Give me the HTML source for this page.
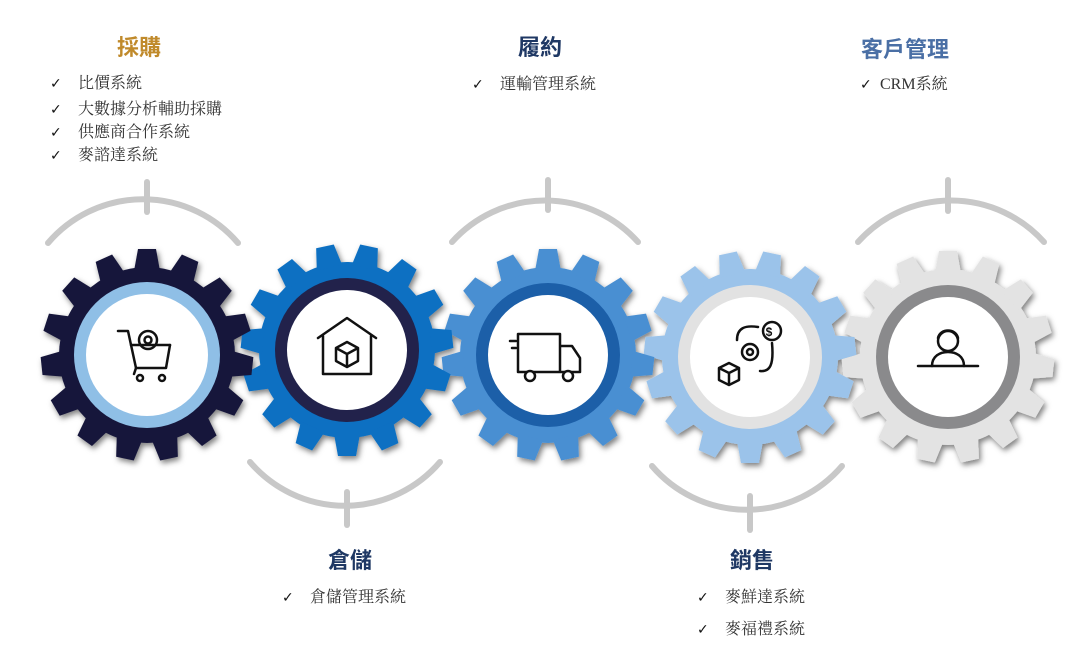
<!DOCTYPE html>
<html><head><meta charset="utf-8"><style>
body{margin:0;width:1080px;height:655px;background:#fff;position:relative;overflow:hidden;font-family:"Liberation Serif","Noto Serif CJK SC",serif;}
.t{position:absolute;font-family:"Liberation Sans","Noto Sans CJK TC",sans-serif;font-weight:bold;font-size:22px;transform:translateX(-50%);white-space:nowrap;line-height:1}
.i{position:absolute;font-size:16px;color:#333;white-space:nowrap;line-height:1}
.i b{font-family:"DejaVu Sans",sans-serif;font-size:14px;font-weight:normal;color:#111;display:inline-block;width:28px}
svg{position:absolute;left:0;top:0}
</style></head><body>
<svg width="1080" height="655" viewBox="0 0 1080 655">
<defs>
<g id="gear">
<circle r="88"/>
<g id="tooth"><polygon points="-13,-84 -9,-106 9,-106 13,-84"/></g>
<use href="#tooth" transform="rotate(24)"/><use href="#tooth" transform="rotate(48)"/><use href="#tooth" transform="rotate(72)"/><use href="#tooth" transform="rotate(96)"/><use href="#tooth" transform="rotate(120)"/><use href="#tooth" transform="rotate(144)"/><use href="#tooth" transform="rotate(168)"/><use href="#tooth" transform="rotate(192)"/><use href="#tooth" transform="rotate(216)"/><use href="#tooth" transform="rotate(240)"/><use href="#tooth" transform="rotate(264)"/><use href="#tooth" transform="rotate(288)"/><use href="#tooth" transform="rotate(312)"/><use href="#tooth" transform="rotate(336)"/>
</g>
<filter id="sh" x="-20%" y="-20%" width="140%" height="140%"><feDropShadow dx="2" dy="3" stdDeviation="3" flood-opacity="0.5"/></filter>
</defs>
<g fill="none" stroke="#c8c8c8" stroke-width="6" stroke-linecap="round">
<path d="M48,243 A125,125 0 0 1 238,243"/><line x1="147" y1="182" x2="147" y2="212"/>
<path d="M250,462 A125,125 0 0 0 440,462"/><line x1="347" y1="492" x2="347" y2="525"/>
<path d="M452,242 A125,125 0 0 1 638,242"/><line x1="548" y1="180" x2="548" y2="210"/>
<path d="M652,466 A125,125 0 0 0 842,466"/><line x1="750" y1="496" x2="750" y2="530"/>
<path d="M858,242 A125,125 0 0 1 1044,242"/><line x1="948" y1="180" x2="948" y2="211"/>
</g>
<g filter="url(#sh)">
<g transform="translate(948,357)"><use href="#gear" fill="#e3e3e3"/><circle r="72" fill="#8a8a8c"/><circle r="60" fill="#fff"/></g>
<g transform="translate(750,357) rotate(12)"><use href="#gear" fill="#9bc3ea"/><circle r="72" fill="#e2e2e2"/><circle r="60" fill="#fff"/></g>
<g transform="translate(548,355)"><use href="#gear" fill="#4a8fd2"/><circle r="72" fill="#1b5ea8"/><circle r="60" fill="#fff"/></g>
<g transform="translate(347,350) rotate(12)"><use href="#gear" fill="#0b6fc2"/><circle r="72" fill="#22244c"/><circle r="60" fill="#fff"/></g>
<g transform="translate(147,355)"><use href="#gear" fill="#17173b"/><circle r="73" fill="#8fbfe6"/><circle r="61" fill="#fff"/></g>
</g>
<g fill="none" stroke="#111" stroke-width="2.5" stroke-linejoin="round" stroke-linecap="round">
<path d="M118,331 L128,331 L136,368 L166,368 L170,345"/><path d="M131,345 L170,345"/><circle cx="140" cy="378" r="3"/><circle cx="162" cy="378" r="3"/><line x1="136" y1="368" x2="134" y2="374"/>
<circle cx="148" cy="340" r="9"/><circle cx="148" cy="340" r="3.5"/>
<path d="M318,338 L347,318 L376,338"/><path d="M323,336 L323,374 L371,374 L371,336"/><path d="M336,348 L347,342 L358,348 L358,361 L347,367 L336,361 Z M336,348 L347,354 L358,348 M347,354 L347,367"/>
<path d="M518,334 L560,334 L560,372 L518,372 Z M560,346 L572,346 L580,358 L580,372 L560,372"/><circle cx="530" cy="376" r="5" fill="#fff"/><circle cx="568" cy="376" r="5" fill="#fff"/><line x1="510" y1="341" x2="516" y2="341"/><line x1="512" y1="348" x2="516" y2="348"/>
<circle cx="772" cy="331" r="9"/><circle cx="750" cy="352" r="8"/><circle cx="750" cy="352" r="3"/><path d="M737,340 C737,328 745,325 758,327"/><path d="M760,371 C770,372 774,365 772,343"/><path d="M719,368 L729,363 L739,368 L739,380 L729,385 L719,380 Z M719,368 L729,373 L739,368 M729,373 L729,385"/>
<circle cx="948" cy="341" r="10"/><path d="M938,338 C940,328 956,328 958,338"/><path d="M932,366 C932,356 940,352 948,352 C956,352 964,356 964,366"/><line x1="918" y1="366" x2="978" y2="366"/>
</g>
<text x="769" y="336" font-size="12" font-family="Liberation Sans" text-anchor="middle" fill="#111" font-weight="bold">$</text>
</svg>
<div class="t" style="left:139px;top:37px;color:#c08a2b">採購</div>
<div class="i" style="left:50px;top:76px"><b>✓</b>比價系統</div>
<div class="i" style="left:50px;top:102px"><b>✓</b>大數據分析輔助採購</div>
<div class="i" style="left:50px;top:125px"><b>✓</b>供應商合作系統</div>
<div class="i" style="left:50px;top:148px"><b>✓</b>麥諮達系統</div>
<div class="t" style="left:540px;top:37px;color:#1f3864">履約</div>
<div class="i" style="left:472px;top:77px"><b>✓</b>運輸管理系統</div>
<div class="t" style="left:905px;top:39px;color:#4a6fa5">客戶管理</div>
<div class="i" style="left:860px;top:77px"><b style="width:20px">✓</b>CRM系統</div>
<div class="t" style="left:350px;top:550px;color:#1f3864">倉儲</div>
<div class="i" style="left:282px;top:590px"><b>✓</b>倉儲管理系統</div>
<div class="t" style="left:752px;top:550px;color:#1f3864">銷售</div>
<div class="i" style="left:697px;top:590px"><b>✓</b>麥鮮達系統</div>
<div class="i" style="left:697px;top:622px"><b>✓</b>麥福禮系統</div>
</body></html>
